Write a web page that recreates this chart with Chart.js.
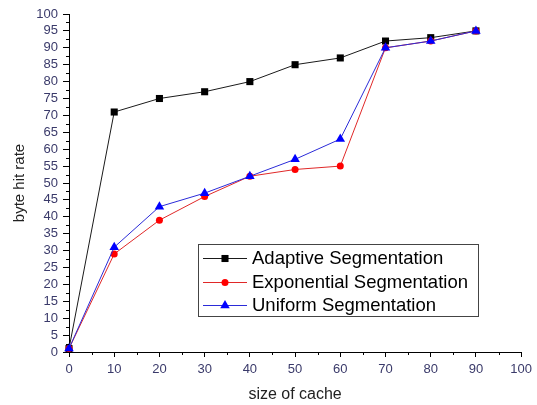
<!DOCTYPE html>
<html>
<head>
<meta charset="utf-8">
<script src="https://cdn.jsdelivr.net/npm/chart.js@4"></script>
<style>
  html, body { margin: 0; padding: 0; background: #fff; }
  #wrap { width: 537px; height: 405px; }
</style>
</head>
<body>
<div id="wrap"><canvas id="hitChart" width="537" height="405"></canvas></div>
<script>
// values
const cacheSizes = [0, 10, 20, 30, 40, 50, 60, 70, 80, 90];
const adaptive = [1, 71, 75, 77, 80, 85, 87, 92, 93, 95];
const exponential = [1, 29, 39, 46, 52, 54, 55, 90, 92, 95];
const uniform = [1, 31, 43, 47, 52, 57, 63, 90, 92, 95];
const seriesNames = ['Adaptive Segmentation', 'Exponential Segmentation', 'Uniform Segmentation'];

const FONT = '"Liberation Sans", Arial, sans-serif';
const TICK_COLOR = '#3a3a6a';

function toPoints(values) {
  return cacheSizes.map((x, i) => ({ x: x, y: values[i] }));
}

// draw one marker in the same style as the dataset
function drawMarker(ctx, ds, x, y) {
  const r = ds.pointRadius;
  ctx.fillStyle = ds.pointBackgroundColor;
  ctx.beginPath();
  if (ds.pointStyle === 'rect') {
    const s = Math.SQRT1_2 * r;
    ctx.rect(x - s, y - s, 2 * s, 2 * s);
  } else if (ds.pointStyle === 'triangle') {
    ctx.moveTo(x, y - r);
    ctx.lineTo(x + r * 0.866, y + r / 2);
    ctx.lineTo(x - r * 0.866, y + r / 2);
    ctx.closePath();
  } else {
    ctx.arc(x, y, r, 0, Math.PI * 2);
  }
  ctx.fill();
}

// minor ticks between the labelled ones
const minorTicks = {
  id: 'minorTicks',
  afterDraw(chart) {
    const { ctx, chartArea } = chart;
    const x = chart.scales.x, y = chart.scales.y;
    ctx.save();
    ctx.strokeStyle = '#000';
    ctx.lineWidth = 1;
    ctx.beginPath();
    for (let v = 5; v < 100; v += 10) {
      const px = Math.round(x.getPixelForValue(v)) + 0.5;
      ctx.moveTo(px, chartArea.bottom);
      ctx.lineTo(px, chartArea.bottom + 3);
    }
    for (let v = 2.5; v < 100; v += 5) {
      const py = Math.round(y.getPixelForValue(v)) + 0.5;
      ctx.moveTo(chartArea.left - 3, py);
      ctx.lineTo(chartArea.left, py);
    }
    ctx.stroke();
    ctx.restore();
  }
};

// boxed legend inside the plot area
const boxLegend = {
  id: 'boxLegend',
  afterDraw(chart) {
    const ctx = chart.ctx;
    const left = 198, top = 244, w = 280, h = 72;
    ctx.save();
    ctx.fillStyle = '#fff';
    ctx.fillRect(left, top, w, h);
    ctx.strokeStyle = '#444';
    ctx.lineWidth = 1;
    ctx.strokeRect(left + 0.5, top + 0.5, w, h);
    ctx.font = '18.5px ' + FONT;
    ctx.textBaseline = 'middle';
    chart.data.datasets.forEach((ds, i) => {
      const cy = top + 14 + i * 23.5;
      ctx.strokeStyle = ds.borderColor;
      ctx.beginPath();
      ctx.moveTo(left + 5, Math.round(cy) + 0.5);
      ctx.lineTo(left + 49, Math.round(cy) + 0.5);
      ctx.stroke();
      drawMarker(ctx, ds, left + 27, Math.round(cy) + 0.5);
      ctx.fillStyle = '#000';
      ctx.fillText(ds.label, left + 54, cy + 1);
    });
    ctx.restore();
  }
};

const ctx = document.getElementById('hitChart').getContext('2d');
const hitChart = new Chart(ctx, {
  type: 'line',
  data: {
    datasets: [{
      label: seriesNames[0],
      data: toPoints(adaptive),
      borderColor: '#1a1a1a',
      borderWidth: 1,
      pointStyle: 'rect',
      pointRadius: 5,
      pointBackgroundColor: '#000',
      pointBorderWidth: 0,
      order: 2,
      clip: false
    }, {
      label: seriesNames[1],
      data: toPoints(exponential),
      borderColor: '#e02828',
      borderWidth: 1,
      pointStyle: 'circle',
      pointRadius: 3.5,
      pointBackgroundColor: '#ff0000',
      pointBorderWidth: 0,
      order: 1,
      clip: false
    }, {
      label: seriesNames[2],
      data: toPoints(uniform),
      borderColor: '#2b2bd8',
      borderWidth: 1,
      pointStyle: 'triangle',
      pointRadius: 5.5,
      pointBackgroundColor: '#0000ff',
      pointBorderWidth: 0,
      order: 0,
      clip: false
    }]
  },
  options: {
    responsive: false,
    animation: false,
    layout: { padding: { top: 14, right: 14, left: 0, bottom: 0 } },
    plugins: {
      legend: { display: false },
      tooltip: { enabled: false }
    },
    scales: {
      x: {
        type: 'linear',
        min: 0,
        max: 100,
        afterFit: scale => { scale.height = 53; },
        grid: { drawOnChartArea: false, tickLength: 5, color: '#000' },
        border: { color: '#000', width: 1 },
        ticks: { stepSize: 10, padding: 5, autoSkip: false, color: TICK_COLOR, font: { family: FONT, size: 13 }, maxRotation: 0 },
        title: { display: true, text: 'size of cache', color: '#222', font: { family: FONT, size: 16 }, padding: { top: 0, bottom: 1 } }
      },
      y: {
        min: 0,
        max: 100,
        afterFit: scale => { scale.width = 69; },
        grid: { drawOnChartArea: false, tickLength: 6, color: '#000' },
        border: { color: '#000', width: 1 },
        ticks: { stepSize: 5, padding: 5, autoSkip: false, color: TICK_COLOR, font: { family: FONT, size: 13 } },
        title: { display: true, text: 'byte hit rate', color: '#222', font: { family: FONT, size: 15 }, padding: { top: 11, bottom: 0 } }
      }
    }
  },
  plugins: [minorTicks, boxLegend]
});
</script>
</body>
</html>
